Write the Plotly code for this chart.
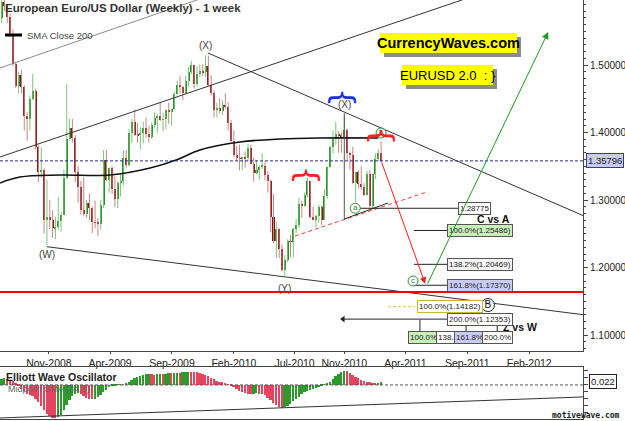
import plotly.graph_objects as go
import pandas as pd

FONT = "Liberation Sans Narrow, Liberation Sans, Arial, sans-serif"
PLOT_W, H = 583, 421

# ---------------- data (weekly EUR/USD) ----------------
first_week = "2008-07-07"
opens = [1.5700,1.5930,1.5870,1.5710,1.5440,1.5010,1.4690,1.4850,1.4670,1.4240,
         1.4200,1.4500,1.4610,1.3790,1.3410,1.3440,1.2700,1.2750,1.2710,1.2580,
         1.2600,1.2690,1.2780,1.3330,1.3900,1.4060,1.3920,1.3410,1.3190,1.2850,
         1.2800,1.2960,1.2880,1.2670,1.2660,1.2650,1.2920,1.3590,1.3290,1.3480,
         1.3160,1.3020,1.3250,1.3280,1.3620,1.3520,1.4000,1.4150,1.3970,1.3960,
         1.3990,1.4060,1.3980,1.3930,1.4110,1.4210,1.4250,1.4190,1.4200,1.4330,
         1.4300,1.4350,1.4570,1.4700,1.4680,1.4580,1.4760,1.4900,1.5000,1.4720,
         1.4860,1.4910,1.4890,1.4980,1.4700,1.4580,1.4340,1.4370,1.4320,1.4410,
         1.4380,1.4140,1.3870,1.3670,1.3620,1.3610,1.3630,1.3620,1.3770,1.3540,
         1.3400,1.3450,1.3490,1.3510,1.3370,1.3280,1.2750,1.2390,1.2570,1.2280,
         1.1970,1.2110,1.2390,1.2380,1.2570,1.2630,1.2940,1.2910,1.3080,1.3280,
         1.2750,1.2710,1.2760,1.2900,1.2710,1.3060,1.3490,1.3790,1.3900,1.3980,
         1.3960,1.3940,1.4030,1.3690,1.3670,1.3250,1.3410,1.3240,1.3190,1.3080,
         1.3380,1.2910,1.3380,1.3610,1.3690]
highs = [1.5960,1.6038,1.5900,1.5760,1.5530,1.5040,1.4900,1.4930,1.4700,1.4300,
         1.4550,1.4870,1.4650,1.3810,1.3780,1.3470,1.3300,1.3000,1.2850,1.2750,
         1.3040,1.2820,1.3450,1.4720,1.4200,1.4200,1.3960,1.3500,1.3280,1.3340,
         1.3000,1.3100,1.2900,1.2990,1.2730,1.3000,1.3740,1.3740,1.3480,1.3500,
         1.3350,1.3280,1.3380,1.3740,1.3740,1.4050,1.4200,1.4340,1.4140,1.4080,
         1.4160,1.4220,1.4100,1.4150,1.4300,1.4270,1.4450,1.4290,1.4340,1.4440,
         1.4350,1.4600,1.4770,1.4840,1.4690,1.4840,1.4970,1.5060,1.5000,1.4980,
         1.5010,1.5010,1.5144,1.5140,1.4850,1.4620,1.4440,1.4510,1.4480,1.4580,
         1.4450,1.4190,1.4030,1.3800,1.3820,1.3640,1.3720,1.3830,1.3820,1.3630,
         1.3590,1.3520,1.3690,1.3570,1.3430,1.3300,1.3090,1.2670,1.2580,1.2340,
         1.2180,1.2420,1.2480,1.2590,1.2720,1.3030,1.2990,1.3110,1.3330,1.3280,
         1.2900,1.2780,1.2930,1.2920,1.3160,1.3490,1.3800,1.4030,1.4160,1.4020,
         1.4000,1.4282,1.4060,1.3720,1.3790,1.3420,1.3440,1.3500,1.3250,1.3430,
         1.3440,1.3390,1.3690,1.3760,1.3862]
lows = [1.5620,1.5800,1.5620,1.5420,1.4990,1.4660,1.4580,1.4580,1.4030,1.3880,
        1.4030,1.4480,1.3750,1.3260,1.3330,1.2500,1.2330,1.2570,1.2440,1.2420,
        1.2560,1.2530,1.2780,1.3310,1.3880,1.3850,1.3260,1.2960,1.2780,1.2760,
        1.2730,1.2700,1.2510,1.2580,1.2460,1.2560,1.2880,1.3280,1.3110,1.3090,
        1.2890,1.2880,1.3050,1.3220,1.3480,1.3500,1.3840,1.3950,1.3850,1.3750,
        1.3840,1.3930,1.3850,1.3900,1.4070,1.3990,1.4170,1.4020,1.4050,1.4130,
        1.4110,1.4330,1.4560,1.4580,1.4480,1.4570,1.4680,1.4860,1.4650,1.4680,
        1.4820,1.4830,1.4830,1.4690,1.4550,1.4220,1.4220,1.4280,1.4260,1.4350,
        1.4030,1.3860,1.3640,1.3580,1.3440,1.3440,1.3480,1.3570,1.3530,1.3270,
        1.3380,1.3300,1.3460,1.3290,1.3110,1.2520,1.2360,1.2140,1.2140,1.1940,
        1.1876,1.2080,1.2150,1.2150,1.2510,1.2580,1.2740,1.2900,1.3040,1.2730,
        1.2700,1.2590,1.2660,1.2630,1.2700,1.3020,1.3480,1.3690,1.3820,1.3700,
        1.3700,1.3900,1.3580,1.3450,1.3240,1.2970,1.3170,1.3150,1.3060,1.3080,
        1.2900,1.28775,1.3310,1.3580,1.3560]
closes = [1.5930,1.5870,1.5710,1.5440,1.5010,1.4690,1.4850,1.4670,1.4240,1.4200,
          1.4500,1.4610,1.3790,1.3410,1.3440,1.2700,1.2750,1.2710,1.2580,1.2600,
          1.2690,1.2780,1.3330,1.3900,1.4060,1.3920,1.3410,1.3190,1.2850,1.2800,
          1.2960,1.2880,1.2670,1.2660,1.2650,1.2920,1.3590,1.3290,1.3480,1.3160,
          1.3020,1.3250,1.3280,1.3620,1.3520,1.4000,1.4150,1.3970,1.3960,1.3990,
          1.4060,1.3980,1.3930,1.4110,1.4210,1.4250,1.4190,1.4200,1.4330,1.4300,
          1.4350,1.4570,1.4700,1.4680,1.4580,1.4760,1.4900,1.5000,1.4720,1.4860,
          1.4910,1.4890,1.4980,1.4700,1.4580,1.4340,1.4370,1.4320,1.4410,1.4380,
          1.4140,1.3870,1.3670,1.3620,1.3610,1.3630,1.3620,1.3770,1.3540,1.3400,
          1.3450,1.3490,1.3510,1.3370,1.3280,1.2750,1.2390,1.2570,1.2280,1.1970,
          1.2110,1.2390,1.2380,1.2570,1.2630,1.2940,1.2910,1.3080,1.3280,1.2750,
          1.2710,1.2760,1.2900,1.2710,1.3060,1.3490,1.3790,1.3900,1.3980,1.3960,
          1.3940,1.4030,1.3690,1.3670,1.3250,1.3410,1.3240,1.3190,1.3080,1.3380,
          1.2910,1.3380,1.3610,1.3690,1.35796]
ewo = [0.040,0.046,0.044,0.038,0.026,0.010,-0.008,-0.026,-0.045,-0.062,
       -0.072,-0.080,-0.098,-0.125,-0.152,-0.180,-0.205,-0.222,-0.233,-0.236,
       -0.230,-0.212,-0.180,-0.140,-0.105,-0.080,-0.066,-0.060,-0.068,-0.082,
       -0.094,-0.100,-0.102,-0.097,-0.085,-0.070,-0.052,-0.034,-0.018,-0.006,
       -0.002,0.002,0.004,0.003,0.008,0.018,0.032,0.046,0.058,0.066,
       0.072,0.076,0.078,0.076,0.074,0.076,0.078,0.077,0.079,0.083,
       0.082,0.084,0.088,0.087,0.090,0.092,0.094,0.093,0.092,0.090,
       0.086,0.080,0.072,0.062,0.050,0.040,0.030,0.024,0.020,0.012,
       0.002,-0.008,-0.018,-0.030,-0.042,-0.052,-0.060,-0.066,-0.068,-0.064,
       -0.060,-0.062,-0.064,-0.075,-0.092,-0.110,-0.128,-0.145,-0.158,-0.164,
       -0.160,-0.150,-0.135,-0.118,-0.100,-0.085,-0.068,-0.052,-0.042,-0.034,
       -0.030,-0.024,-0.016,-0.006,0.004,0.010,0.024,0.042,0.062,0.080,
       0.094,0.100,0.098,0.088,0.074,0.060,0.046,0.036,0.028,0.022,
       0.018,0.014,0.012,0.016,0.022]

sma_dates = ["2008-07-03","2008-08-21","2008-11-28","2009-04-01","2009-07-09",
             "2009-09-15","2009-11-09","2010-02-16","2010-05-26","2010-09-01","2011-01-24"]
sma_values = [1.3252,1.3341,1.3370,1.3370,1.3474,1.3600,1.3741,1.3859,1.3904,1.3919,1.3919]

month_ticks = ["2008-11-01","2009-04-01","2009-09-01","2010-02-01","2010-07-01",
               "2010-11-01","2011-04-01","2011-09-01","2012-02-01"]
x_range = ["2008-07-03", "2012-06-13"]
price_range = [1.0763, 1.5963]
ewo_range = [-0.243, 0.128]

last_price = 1.35796
ewo_last = 0.022
support_level = 1.1637

# trend lines (date, price) pairs
line_a = (["2008-07-03", "2010-01-22"], [1.4956, 1.6132])
line_b = (["2008-07-03", "2011-11-21"], [1.3637, 1.6156])
line_c = (["2009-11-29", "2012-06-13"], [1.5178, 1.2770])
line_d = (["2008-10-27", "2012-06-13"], [1.2308, 1.1301])
x_peak_line = (["2010-11-01", "2010-11-01"], [1.4282, 1.2719])
tri_low = (["2010-11-01", "2011-02-17"], [1.2719, 1.2956])
red_dash = (["2010-07-02", "2011-05-24"], [1.2467, 1.3119])
ewo_line = (["2008-07-03", "2012-06-13"], [-0.2357, -0.0857])

fib_prices = [1.28775, 1.25486, 1.20469, 1.17370, 1.14182, 1.12353]
fib_texts = ["1.28775", "100.0%(1.25486)", "138.2%(1.20469)", "161.8%(1.17370)",
             "100.0%(1.14182)", "200.0%(1.12353)"]
fib_bg = ["#ffffff", "#c8f0b8", "#f4f4f4", "#c8ccf4", "#ffffff", "#ffffff"]
fib_border = ["#555555", "#555555", "#555555", "#555555", "#c8b830", "#555555"]
fib_box_left = ["2011-08-09", "2011-07-13", "2011-07-13", "2011-07-13", "2011-04-30", "2011-07-13"]
fib_line_start = ["2010-12-10", "2011-04-22", "2011-04-22", "2011-04-22", "2011-02-17", "2010-10-29"]

zw_texts = ["100.0%", "138.2%", "161.8%", "200.0%"]
zw_left = ["2011-04-07", "2011-06-16", "2011-07-30", "2011-10-08"]
zw_bg = ["#c8f0b8", "#ffffff", "#c8ccf4", "#ffffff"]
zw_price = 1.0956
zw_ticks = ["2011-05-07", "2011-08-29", "2011-11-14"]

# ---------------- figure ----------------
n = len(closes)
weeks = list(pd.date_range(first_week, periods=n, freq="7D"))
up = [c >= o for o, c in zip(opens, closes)]

fig = go.Figure()

UP_BODY, UP_WICK = "#1d8a1d", "#7cc47c"
DN_BODY, DN_WICK = "#8b0d0d", "#c98585"
DAY = 86400000

for want, wick_col, body_col in ((True, UP_WICK, UP_BODY), (False, DN_WICK, DN_BODY)):
    xs, ys = [], []
    idx = [i for i in range(n) if up[i] == want]
    for i in idx:
        xs += [weeks[i], weeks[i], None]
        ys += [lows[i], highs[i], None]
    fig.add_trace(go.Scatter(x=xs, y=ys, mode="lines", line=dict(color=wick_col, width=1),
                             hoverinfo="skip", xaxis="x", yaxis="y"))
    fig.add_trace(go.Bar(x=[weeks[i] for i in idx],
                         base=[min(opens[i], closes[i]) for i in idx],
                         y=[max(abs(closes[i] - opens[i]), 0.0008) for i in idx],
                         width=5 * DAY, marker=dict(color=body_col, line=dict(width=0)),
                         xaxis="x", yaxis="y"))

# SMA 200
fig.add_trace(go.Scatter(x=sma_dates, y=sma_values, mode="lines",
                         line=dict(color="#111111", width=1.6, shape="spline"),
                         xaxis="x", yaxis="y"))

def add_line(pts, color, width=1, dash=None, xa="x", ya="y"):
    fig.add_trace(go.Scatter(x=pts[0], y=pts[1], mode="lines",
                             line=dict(color=color, width=width, dash=dash),
                             hoverinfo="skip", xaxis=xa, yaxis=ya))

add_line(line_a, "#8a8a8a")
add_line(line_b, "#333333")
add_line(line_c, "#333333")
add_line(line_d, "#333333")
add_line(red_dash, "#ff3a3a", dash="4px,3px")
add_line(x_peak_line, "#555555")
add_line(tri_low, "#222222")

# fib connector lines
for p, s, e in zip(fib_prices, fib_line_start, fib_box_left):
    if p == 1.14182:
        add_line(([s, "2011-04-25"], [p, p]), "#d8c830", dash="3px,2px")
    else:
        add_line(([s, e], [p, p]), "#222222")
for t in zw_ticks:
    add_line(([t, t], [1.1224, 1.1040]), "#222222")

# left-pointing marker at 200% line
fig.add_trace(go.Scatter(x=["2010-10-29"], y=[1.12353], mode="markers",
                         marker=dict(symbol="triangle-left", size=6, color="#222222"),
                         xaxis="x", yaxis="y"))

# circled wave labels
circ_x = ["2010-11-28", "2011-01-31", "2011-04-20"]
circ_y = [1.28775, 1.3993, 1.1800]
circ_t = ["a", "b", "c"]
fig.add_trace(go.Scatter(x=circ_x, y=circ_y, mode="markers+text", text=circ_t,
                         textposition="middle center",
                         textfont=dict(size=8, color="#3a7a3a", family=FONT),
                         marker=dict(symbol="circle", size=10, color="rgba(255,255,255,0.6)",
                                     line=dict(color="#3a8a3a", width=1)),
                         xaxis="x", yaxis="y"))
fig.add_trace(go.Scatter(x=["2011-10-22"], y=[1.1444], mode="markers+text", text=["B"],
                         textposition="middle center",
                         textfont=dict(size=10, color="#111111", family=FONT),
                         marker=dict(symbol="circle", size=13, color="rgba(255,255,255,0.8)",
                                     line=dict(color="#222222", width=1)),
                         xaxis="x", yaxis="y"))

# oscillator
ewo_colors = ["#2e9a2e" if i == 0 or ewo[i] >= ewo[i - 1] else "#e5445f" for i in range(n)]
fig.add_trace(go.Bar(x=weeks, y=ewo, width=4.5 * DAY, marker=dict(color=ewo_colors, line=dict(width=0)),
                     xaxis="x2", yaxis="y2"))
add_line(ewo_line, "#333333", xa="x2", ya="y2")

# ---------------- shapes ----------------
def R(x0, y0, x1, y1, color):
    return dict(type="rect", xref="paper", yref="paper", x0=x0 / PLOT_W, x1=x1 / PLOT_W,
                y0=1 - y1 / H, y1=1 - y0 / H, fillcolor=color, line=dict(width=0), layer="above")

shapes = [
    dict(type="line", xref="paper", x0=0, x1=1, yref="y", y0=last_price, y1=last_price,
         line=dict(color="#2a2a80", width=1, dash="3px,2px")),
    dict(type="line", xref="paper", x0=0, x1=1, yref="y", y0=support_level, y1=support_level,
         line=dict(color="#ff0000", width=2)),
    dict(type="line", xref="paper", x0=0, x1=1, yref="y2", y0=0, y1=0,
         line=dict(color="#555555", width=1, dash="3px,2px")),
    dict(type="line", xref="paper", x0=5 / PLOT_W, x1=22 / PLOT_W, yref="paper",
         y0=1 - 35 / H, y1=1 - 35 / H, line=dict(color="#000000", width=3)),
    # yellow label boxes with grey drop shadows
    R(384, 37, 521, 57, "#8c8c8c"),
    R(380, 33, 517, 53, "#ffff00"),
    R(406, 69, 497, 89, "#8c8c8c"),
    R(402, 65, 493, 85, "#ffff00"),
]

# ---------------- annotations ----------------
ann = []
def A(**kw):
    d = dict(showarrow=False, font=dict(family=FONT, size=10, color="#222222"))
    d.update(kw)
    ann.append(d)

def P(x, y):
    return dict(xref="paper", yref="paper", x=x / PLOT_W, y=1 - y / H)

A(text="<b>European Euro/US Dollar (Weekly) - 1 week</b>", xanchor="left", yanchor="middle",
  font=dict(family=FONT, size=11.5, color="#333333"), **P(3, 8))
A(text="SMA Close 200", xanchor="left", yanchor="middle",
  font=dict(family=FONT, size=9.5, color="#444444"), **P(25, 35))

A(text="<b>CurrencyWaves.com</b>", xanchor="center", yanchor="middle",
  font=dict(family=FONT, size=14.5, color="#000000"), **P(448.5, 43))
A(text="EURUSD 2.0\u00a0\u00a0: }", xanchor="center", yanchor="middle",
  font=dict(family=FONT, size=13, color="#000000"), **P(447.5, 75))

# wave labels
A(text="(X)", x="2009-11-23", y=highs[72], xref="x", yref="y", yshift=10,
  font=dict(family=FONT, size=10, color="#444444"))
A(text="(X)", x="2010-11-01", y=highs[121], xref="x", yref="y", yshift=9,
  font=dict(family=FONT, size=10, color="#444444"))
A(text="(W)", x="2008-10-27", y=lows[16], xref="x", yref="y", yshift=-9,
  font=dict(family=FONT, size=10, color="#444444"))
A(text="(Y)", x="2010-06-07", y=lows[100], xref="x", yref="y", yshift=-13,
  font=dict(family=FONT, size=10, color="#444444"))

# braces
for bx, by, col in (("2010-10-31", 1.4511, "#1a2ee8"), ("2010-08-04", 1.3370, "#ff2020"),
                    ("2011-02-04", 1.3948, "#ff2020")):
    A(text="{", x=bx, y=by, xref="x", yref="y", textangle=90, xanchor="center", yanchor="middle",
      font=dict(family="DejaVu Sans", size=30, color=col))

A(text="<b>C vs A</b>", x="2011-11-04", y=1.2719, xref="x", yref="y",
  font=dict(family=FONT, size=10.5, color="#111111"))
A(text="<b>Z vs W</b>", x="2012-01-10", y=1.1112, xref="x", yref="y",
  font=dict(family=FONT, size=10.5, color="#111111"))

for p, t, bg, bc, left in zip(fib_prices, fib_texts, fib_bg, fib_border, fib_box_left):
    A(text=t, x=left, y=p, xref="x", yref="y", xanchor="left", yanchor="middle",
      bgcolor=bg, bordercolor=bc, borderwidth=1, borderpad=1,
      font=dict(family=FONT, size=8, color="#222222"))
for t, left, bg in zip(zw_texts, zw_left, zw_bg):
    A(text=t, x=left, y=zw_price, xref="x", yref="y", xanchor="left", yanchor="middle",
      bgcolor=bg, bordercolor="#555555", borderwidth=1, borderpad=1,
      font=dict(family=FONT, size=8, color="#222222"))

# arrows
ann.append(dict(x="2011-05-20", y=1.1760, ax="2011-01-31", ay=last_price, xref="x", yref="y",
                axref="x", ayref="y", showarrow=True, arrowhead=2, arrowsize=1.3,
                arrowwidth=1, arrowcolor="#ff1a1a", text=""))
ann.append(dict(x="2012-03-19", y=1.5489, ax="2011-05-24", ay=1.1737, xref="x", yref="y",
                axref="x", ayref="y", showarrow=True, arrowhead=2, arrowsize=1.4,
                arrowwidth=1, arrowcolor="#1e9a1e", text=""))

# right-axis value boxes
A(text="1.35796", xref="paper", x=1, xanchor="left", xshift=3, y=last_price, yref="y",
  bgcolor="#c5cbf5", bordercolor="#3a3a8a", borderwidth=1, borderpad=1,
  font=dict(family=FONT, size=9.5, color="#222222"))
A(text="0.022", xref="paper", x=1, xanchor="left", xshift=6, y=ewo_last, yref="y2",
  bgcolor="#ffffff", bordercolor="#222222", borderwidth=1, borderpad=1,
  font=dict(family=FONT, size=9.5, color="#222222"))

# oscillator titles
A(text="<b>Elliott Wave Oscillator</b>", xanchor="left", yanchor="middle",
  font=dict(family=FONT, size=10.5, color="#222222"), **P(4, 377))
A(text="Midpoint SMA (34,5)", xanchor="left", yanchor="middle",
  font=dict(family=FONT, size=9, color="#666666"), **P(6, 389))
A(text="<b>motivewave.com</b>", xanchor="right", yanchor="middle",
  font=dict(family="DejaVu Sans Mono", size=8, color="#222222"), **P(622, 415))

axis_common = dict(showgrid=False, zeroline=False, showline=True, linecolor="#444444",
                   linewidth=1, mirror=True, automargin=False)

fig.update_layout(
    width=625, height=421,
    margin=dict(l=0, r=625 - PLOT_W, t=0, b=0, autoexpand=False),
    paper_bgcolor="#ffffff", plot_bgcolor="#ffffff",
    showlegend=False, barmode="overlay", bargap=0,
    font=dict(family=FONT, size=10, color="#222222"),
    xaxis=dict(domain=[0, 1], anchor="y", type="date", range=x_range,
               tickvals=month_ticks, tickformat="%b-%Y", ticks="outside", ticklen=2,
               tickcolor="#444444", tickfont=dict(family=FONT, size=10.5, color="#222222"),
               **axis_common),
    yaxis=dict(domain=[1 - 351 / H, 1], anchor="x", side="right", range=price_range,
               tick0=1.1, dtick=0.1, tickformat=".5f", ticks="outside", ticklen=4,
               tickcolor="#444444", tickfont=dict(family=FONT, size=10, color="#222222"),
               minor=dict(ticks="outside", ticklen=2, dtick=0.01, tick0=1.0, tickcolor="#444444"),
               **axis_common),
    xaxis2=dict(domain=[0, 1], anchor="y2", type="date", range=x_range, matches="x",
                showticklabels=False, ticks="", **axis_common),
    yaxis2=dict(domain=[2 / H, 54 / H], anchor="x2", side="right", range=ewo_range,
                tick0=0, dtick=0.05, ticks="outside", ticklen=4, tickcolor="#444444",
                showticklabels=False, **axis_common),
    shapes=shapes,
    annotations=ann,
)

fig.write_html("out.html")
